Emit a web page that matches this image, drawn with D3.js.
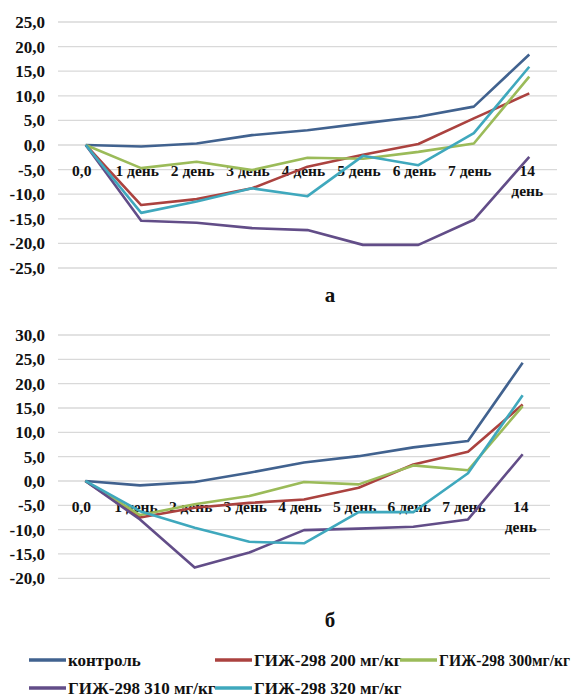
<!DOCTYPE html>
<html><head><meta charset="utf-8">
<script src="https://cdn.jsdelivr.net/npm/d3@7"></script>
<style>
body{margin:0;background:#fff;}
</style></head>
<body><svg id="c" width="577" height="696"></svg>
<script>
const categories = ["0,0","1 день","2 день","3 день","4 день","5 день","6 день","7 день","14 день"];
const seriesNames = ["контроль","ГИЖ-298 200 мг/кг","ГИЖ-298 300мг/кг","ГИЖ-298 310 мг/кг","ГИЖ-298 320 мг/кг"];
const seriesColors = ["#41628f","#ab423f","#9bbb59","#624d88","#3fa8bd"];

const controlA = [0,-0.3,0.3,2.0,3.0,4.4,5.75,7.8,18.4];
const g200A    = [0,-12.2,-11.0,-8.8,-4.4,-2.0,0.2,5.4,10.5];
const g300A    = [0,-4.7,-3.4,-5.1,-2.6,-2.8,-1.4,0.3,13.9];
const g310A    = [0,-15.4,-15.8,-16.9,-17.3,-20.3,-20.3,-15.2,-2.4];
const g320A    = [0,-13.8,-11.5,-8.8,-10.4,-2.2,-4.1,2.4,15.9];

const controlB = [0,-0.9,-0.2,1.7,3.8,5.1,6.9,8.2,24.3];
const g200B    = [0,-7.5,-5.5,-4.5,-3.8,-1.4,3.4,6.0,15.7];
const g300B    = [0,-7.0,-4.8,-3.1,-0.2,-0.7,3.2,2.2,15.4];
const g310B    = [0,-7.9,-17.8,-14.7,-10.1,-9.8,-9.4,-7.9,5.5];
const g320B    = [0,-6.2,-9.6,-12.5,-12.8,-6.4,-6.4,1.6,17.6];

const ticksA = [25,20,15,10,5,0,-5,-10,-15,-20,-25];
const ticksB = [30,25,20,15,10,5,0,-5,-10,-15,-20];

const svg = d3.select("#c");
const fmt = v => d3.format(".1f")(v).replace(".",",").replace("−","-");

function txt(parent,x,y,s,fs,anchor){
  return parent.append("text").attr("x",x).attr("y",y)
    .attr("font-family","Liberation Serif").attr("font-weight","bold")
    .attr("font-size",fs).attr("fill","#111")
    .attr("text-anchor",anchor||"start").text(s);
}

function drawChart(cfg){
  const g = svg.append("g");
  const x = d3.scaleBand().domain(categories).range([cfg.x0,cfg.x1]);
  const y = d3.scaleLinear().domain([cfg.ymin,cfg.ymax]).range([cfg.yb,cfg.yt]);
  const cx = c => x(c)+x.bandwidth()/2;
  g.selectAll("line.grid").data(cfg.ticks).join("line")
    .attr("x1",cfg.x0).attr("x2",cfg.x1)
    .attr("y1",d=>y(d)).attr("y2",d=>y(d))
    .attr("stroke","#d9d9d9").attr("stroke-width",1.3);
  cfg.ticks.forEach(d=>{
    txt(g,45,y(d)+6,fmt(d),17,"end");
  });
  categories.forEach(c=>{
    if(c==="14 день"){
      txt(g,cx(c)-2,y(0)+31,"14",15.5,"middle");
      txt(g,cx(c)-2,y(0)+51,"день",15.5,"middle");
    } else txt(g,cx(c)-4,y(0)+31,c,15.5,"middle");
  });
  const line = d3.line().x((d,i)=>cx(categories[i])).y(d=>y(d));
  cfg.series.forEach((s,k)=>{
    g.append("path").attr("d",line(s)).attr("fill","none")
      .attr("stroke",seriesColors[k]).attr("stroke-width",2.6)
      .attr("stroke-linejoin","round");
  });
  txt(g,330,cfg.subY,cfg.sub,21,"middle");
}

drawChart({x0:58,x1:557,yt:22,yb:268,ymin:-25,ymax:25,ticks:ticksA,
  series:[controlA,g200A,g300A,g310A,g320A],sub:"а",subY:302});
drawChart({x0:58,x1:550,yt:335,yb:578.3,ymin:-20,ymax:30,ticks:ticksB,
  series:[controlB,g200B,g300B,g310B,g320B],sub:"б",subY:627});

const legendPos = [[29,660],[215,660],[400,660],[29,688],[215,688]];
seriesNames.forEach((n,k)=>{
  const [lx,ly] = legendPos[k];
  svg.append("line").attr("x1",lx).attr("x2",lx+37).attr("y1",ly).attr("y2",ly)
    .attr("stroke",seriesColors[k]).attr("stroke-width",3.5);
  const t = txt(svg,lx+39,ly+5.5,n,17,"start");
  const w = t.node().getComputedTextLength();
  const maxW = 570 - (lx+39);
  if(w > maxW) t.attr("textLength",maxW).attr("lengthAdjust","spacingAndGlyphs");
});
</script></body></html>
